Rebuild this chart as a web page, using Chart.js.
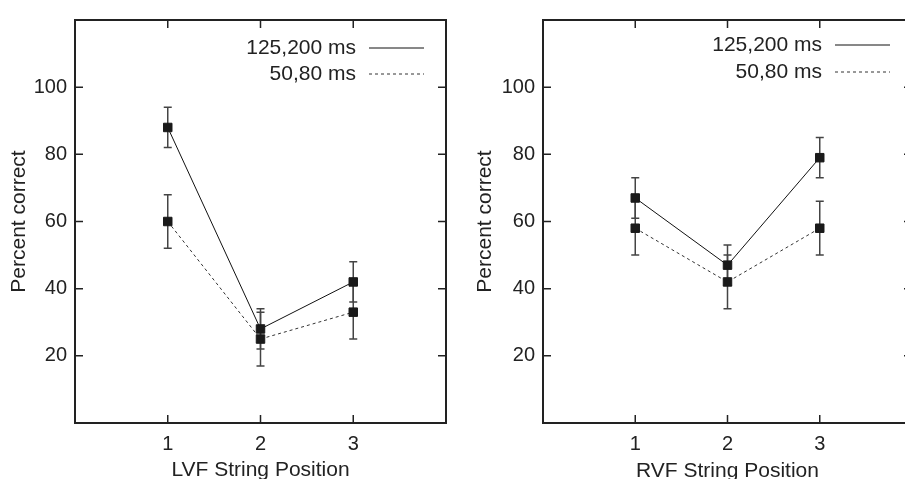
<!DOCTYPE html>
<html>
<head>
<meta charset="utf-8">
<script src="https://cdn.jsdelivr.net/npm/chart.js@4"></script>
<style>
  html, body { margin: 0; padding: 0; background: #fff; overflow: hidden; }
  #wrap { position: relative; width: 905px; height: 479px; overflow: hidden; }
  canvas { position: absolute; top: 0; }
  #lvf { left: 0; }
  #rvf { left: 455px; }
</style>
</head>
<body>
<div id="wrap">
  <canvas id="lvf" width="455" height="479"></canvas>
  <canvas id="rvf" width="470" height="479"></canvas>
</div>
<script>
// string positions and axis ticks
const positions = [1, 2, 3];
const xTicks = [1, 2, 3];
const yTicks = [20, 40, 60, 80, 100];
const seriesLabels = ['125,200 ms', '50,80 ms'];

// LVF panel: means and error bar ends
const lvfLong = [88, 28, 42];
const lvfLongLo = [82, 22, 36];
const lvfLongHi = [94, 34, 48];
const lvfShort = [60, 25, 33];
const lvfShortLo = [52, 17, 25];
const lvfShortHi = [68, 33, 41];

// RVF panel
const rvfLong = [67, 47, 79];
const rvfLongLo = [61, 41, 73];
const rvfLongHi = [73, 53, 85];
const rvfShort = [58, 42, 58];
const rvfShortLo = [50, 34, 50];
const rvfShortHi = [66, 50, 66];

const FONT = '"Liberation Sans", Arial, Helvetica, sans-serif';
const INK = '#222';

// gnuplot-ish frame: error bars, inward ticks on all four sides, key in the corner
const gnuplotFrame = {
  id: 'gnuplotFrame',
  beforeDatasetsDraw(chart) {
    const { ctx, scales: { x, y } } = chart;
    ctx.save();
    ctx.strokeStyle = '#444';
    ctx.lineWidth = 1.5;
    chart.data.datasets.forEach(ds => {
      ds.data.forEach((p, i) => {
        const px = x.getPixelForValue(p.x);
        const top = y.getPixelForValue(ds.errHi[i]);
        const bot = y.getPixelForValue(ds.errLo[i]);
        ctx.beginPath();
        ctx.moveTo(px, top); ctx.lineTo(px, bot);
        ctx.moveTo(px - 4, top); ctx.lineTo(px + 4, top);
        ctx.moveTo(px - 4, bot); ctx.lineTo(px + 4, bot);
        ctx.stroke();
      });
    });
    ctx.restore();
  },
  afterDatasetsDraw(chart) {
    const { ctx, chartArea: a, scales: { x, y } } = chart;
    const tl = 8;
    ctx.save();
    ctx.strokeStyle = INK;
    ctx.lineWidth = 1.5;
    ctx.beginPath();
    xTicks.forEach(v => {
      const px = x.getPixelForValue(v);
      ctx.moveTo(px, a.bottom); ctx.lineTo(px, a.bottom - tl);
      ctx.moveTo(px, a.top); ctx.lineTo(px, a.top + tl);
    });
    yTicks.forEach(v => {
      const py = y.getPixelForValue(v);
      ctx.moveTo(a.left, py); ctx.lineTo(a.left + tl, py);
      ctx.moveTo(a.right, py); ctx.lineTo(a.right - tl, py);
    });
    ctx.stroke();
    ctx.lineWidth = 2;
    ctx.strokeRect(a.left, a.top, a.right - a.left, a.bottom - a.top);
    ctx.restore();
  },
  afterDraw(chart, args, opts) {
    const { ctx, chartArea: a } = chart;
    ctx.save();
    ctx.font = '21px ' + FONT;
    ctx.fillStyle = INK;
    ctx.textAlign = 'right';
    ctx.textBaseline = 'middle';
    chart.data.datasets.forEach((ds, i) => {
      const ly = a.top + opts.rows[i];
      ctx.fillText(ds.label, a.right - 90, ly);
      ctx.strokeStyle = ds.borderColor;
      ctx.lineWidth = 1;
      ctx.setLineDash(ds.borderDash || []);
      ctx.beginPath();
      ctx.moveTo(a.right - 77, ly);
      ctx.lineTo(a.right - 22, ly);
      ctx.stroke();
    });
    ctx.restore();
  }
};

function series(label, vals, lo, hi, dashed) {
  return {
    label: label,
    data: positions.map((p, i) => ({ x: p, y: vals[i] })),
    errLo: lo,
    errHi: hi,
    borderColor: dashed ? '#333' : '#111',
    borderWidth: 1,
    borderDash: dashed ? [3, 3] : [],
    pointStyle: 'rect',
    pointRadius: 6,
    pointBorderWidth: 1,
    pointBackgroundColor: '#1a1a1a',
    pointBorderColor: '#1a1a1a',
    tension: 0
  };
}

function makePanel(id, xTitle, datasets, p) {
  new Chart(document.getElementById(id), {
    type: 'line',
    data: { datasets: datasets },
    plugins: [gnuplotFrame],
    options: {
      responsive: false,
      animation: false,
      layout: { padding: { left: 0, right: p.padRight, top: 12, bottom: 0 } },
      plugins: {
        legend: { display: false },
        tooltip: { enabled: false },
        gnuplotFrame: { rows: p.rows }
      },
      scales: {
        x: {
          type: 'linear',
          min: 0,
          max: 4,
          afterBuildTicks: s => { s.ticks = xTicks.map(v => ({ value: v })); },
          afterFit: s => { s.height = 56; },
          grid: { display: false, drawTicks: false },
          border: { display: false },
          ticks: { color: INK, font: { family: FONT, size: 20 }, padding: 9 },
          title: { display: true, text: xTitle, color: INK, font: { family: FONT, size: 21, lineHeight: p.titleLH }, padding: 0 }
        },
        y: {
          min: 0,
          max: 120,
          afterBuildTicks: s => { s.ticks = yTicks.map(v => ({ value: v })); },
          afterFit: s => { s.width = p.axisW; },
          grid: { display: false, drawTicks: false },
          border: { display: false },
          ticks: { color: INK, font: { family: FONT, size: 20 }, padding: 8 },
          title: { display: true, text: 'Percent correct', color: INK, font: { family: FONT, size: 21 }, padding: { top: p.titlePad, bottom: 0 } }
        }
      }
    }
  });
}

makePanel('lvf', 'LVF String Position', [
  series(seriesLabels[0], lvfLong, lvfLongLo, lvfLongHi, false),
  series(seriesLabels[1], lvfShort, lvfShortLo, lvfShortHi, true)
], { axisW: 75, padRight: 9, titlePad: 7, titleLH: 0.85, rows: [28, 54] });

makePanel('rvf', 'RVF String Position', [
  series(seriesLabels[0], rvfLong, rvfLongLo, rvfLongHi, false),
  series(seriesLabels[1], rvfShort, rvfShortLo, rvfShortHi, true)
], { axisW: 88, padRight: 13, titlePad: 18, titleLH: 0.7, rows: [25, 52] });
</script>
</body>
</html>
